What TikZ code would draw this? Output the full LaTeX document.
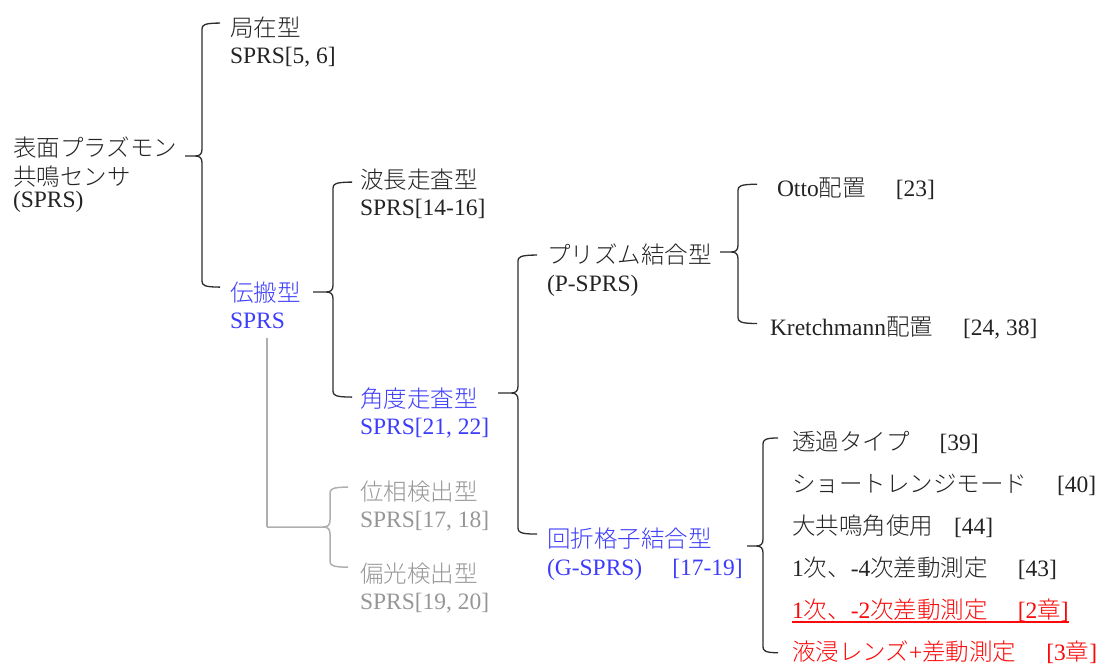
\documentclass[tikz,border=0pt]{standalone}
\usepackage{fontspec}
\setmainfont{Liberation Serif}
\IfFontExistsTF{Noto Sans CJK JP Light}
  {\newfontfamily\cjkfam{Noto Sans CJK JP Light}}
  {\newfontfamily\cjkfam{Noto Sans CJK JP}}
\usetikzlibrary{calc}
\definecolor{txt}{RGB}{35,35,35}
\definecolor{blu}{RGB}{60,60,250}
\definecolor{gry}{RGB}{150,150,150}
\definecolor{gryl}{RGB}{175,175,175}
\definecolor{rd}{RGB}{250,10,10}
\definecolor{brk}{RGB}{45,45,45}
\newcommand\J[1]{{\cjkfam\fontsize{23.5pt}{28pt}\selectfont #1}}
\newcommand\sepg{\hspace{30pt}}
\newcommand\brc[5][]{%
 \draw[brcl,#1] let \p1=(#2), \p2=(#3), \p3=(#4) in
  (\p2) .. controls (#5+2,\y2) and (#5,\y2-2) .. (#5,\y2-6)
  -- (#5,\y1+7) .. controls (#5,\y1+2) and (#5-2,\y1) .. (#5-7,\y1) -- (\p1)
  (#5-7,\y1) .. controls (#5-2,\y1) and (#5,\y1-2) .. (#5,\y1-7)
  -- (#5,\y3+6) .. controls (#5,\y3+2) and (#5+2,\y3) .. (\p3);}
\begin{document}
\begin{tikzpicture}[x=1pt,y=1pt,
  lbl/.style={anchor=base west, inner sep=0pt, outer sep=0pt,
    font=\fontsize{23.5pt}{28pt}\selectfont, text=txt},
  brcl/.style={draw=brk, line width=1.3pt, line join=round},
  grl/.style={draw=gryl, line width=1.5pt, line join=round}]
\useasboundingbox (0,0) rectangle (1107,-665);
% root
\node[lbl] (root1) at (13,-156) {\J{表面プラズモン}};
\node[lbl] (root2) at (13,-185) {\J{共鳴センサ}};
\node[lbl] (root3) at (13,-207) {(SPRS)};
% level 1
\node[lbl] (loc1) at (230,-36) {\J{局在型}};
\node[lbl] (loc2) at (230,-63) {SPRS[5, 6]};
\node[lbl,text=blu] (prop1) at (230,-301) {\J{伝搬型}};
\node[lbl,text=blu] (prop2) at (230,-328) {SPRS};
% level 2
\node[lbl] (wav1) at (360,-188) {\J{波長走査型}};
\node[lbl] (wav2) at (360,-215) {SPRS[14-16]};
\node[lbl,text=blu] (ang1) at (360,-407) {\J{角度走査型}};
\node[lbl,text=blu] (ang2) at (360,-434) {SPRS[21, 22]};
\node[lbl,text=gry] (ph1) at (360,-500) {\J{位相検出型}};
\node[lbl,text=gry] (ph2) at (360,-527) {SPRS[17, 18]};
\node[lbl,text=gry] (pol1) at (360,-582) {\J{偏光検出型}};
\node[lbl,text=gry] (pol2) at (360,-609) {SPRS[19, 20]};
% level 3
\node[lbl] (pr1) at (547,-263) {\J{プリズム結合型}};
\node[lbl] (pr2) at (547,-291) {(P-SPRS)};
\node[lbl,text=blu] (gr1) at (547,-547) {\J{回折格子結合型}};
\node[lbl,text=blu] (gr2) at (547,-575) {(G-SPRS)\sepg[17-19]};
% level 4
\node[lbl] (otto) at (777,-196) {Otto\J{配置}\sepg[23]};
\node[lbl] (kre) at (770,-335) {Kretchmann\J{配置}\sepg[24, 38]};
\node[lbl] (g1) at (792,-450) {\J{透過タイプ}\sepg[39]};
\node[lbl] (g2) at (792,-492) {\J{ショートレンジモード}\sepg[40]};
\node[lbl] (g3) at (792,-534) {\J{大共鳴角使用}\hspace{21pt}[44]};
\node[lbl] (g4) at (792,-576) {1\J{次、}-4\J{次差動測定}\sepg[43]};
\node[lbl,text=rd] (g5) at (792,-618) {1\J{次、}-2\J{次差動測定}\sepg[2\J{章}]};
\node[lbl,text=rd] (g6) at (792,-660) {\J{液浸レンズ}+\J{差動測定}\sepg[3\J{章}]};
\draw[draw=rd, line width=1.4pt] ($(g5.base west)+(0,-4)$) -- ($(g5.base east)+(0,-4)$);
% tips
\coordinate (tA) at (185,-156);
\coordinate (tB) at (313,-292);
\coordinate (tC) at (498,-393);
\coordinate (tD) at (720,-252);
\coordinate (tE) at (747,-546);
\coordinate (tF) at (267,-527);
\coordinate (gtop) at (267,-338);
% braces
\brc{tA}{$(loc1.west)+(-10,4)$}{$(prop1.west)+(-10,5)$}{202}
\brc{tB}{$(wav1.west)+(-8,-3)$}{$(ang1.west)+(-8,1)$}{333}
\brc{tC}{$(pr1.west)+(-10,-1)$}{$(gr1.west)+(-10,4)$}{518}
\brc{tD}{$(otto.west)+(-20,4)$}{$(kre.west)+(-13,4)$}{738}
\brc{tE}{$(g1.west)+(-14,4)$}{$(g6.west)+(-14,-1)$}{763}
\brc[grl]{tF}{$(ph1.west)+(-12,4)$}{$(pol1.west)+(-12,6)$}{330}
\draw[grl] (gtop) -- (tF);
\end{tikzpicture}
\end{document}
